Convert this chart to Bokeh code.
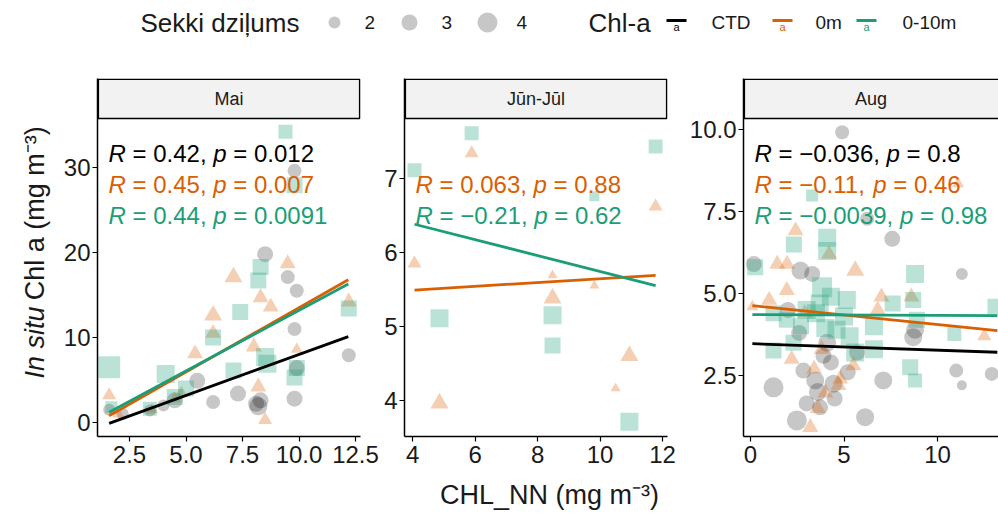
import math
from bokeh.plotting import figure
from bokeh.layouts import column, row
from bokeh.models import Range1d, FixedTicker
from bokeh.core.properties import value
from bokeh.embed import file_html
from bokeh.resources import INLINE

FONT = "Liberation Sans"
C_CTD = "#000000"
C_0M = "#D95F02"
C_010 = "#1B9E77"
TXT = "#1a1a1a"

# ---------------- data ----------------
PANELS = ["Mai", "Jūn-Jūl", "Aug"]
SERIES = ["CTD", "0m", "0-10m"]
SECCHI_LEGEND = [2, 3, 4]

# Mai
MAI_CTD_X = [1.6, 3.4, 4.5, 5.5, 6.2, 7.3, 8.1, 8.2, 8.3, 8.5, 9.5, 9.9, 9.8, 9.9, 9.8, 12.2, 9.8, 4.0, 2.2]
MAI_CTD_Y = [1.5, 1.4, 2.6, 4.9, 2.4, 3.4, 2.2, 1.9, 2.6, 19.8, 17.1, 15.5, 11.0, 6.4, 2.8, 7.9, 29.6, 2.0, 1.0]
MAI_CTD_S = [2, 2, 3, 3, 2.5, 3, 3, 3.5, 3, 3, 2.5, 2.5, 2.5, 3, 3, 2.5, 2.5, 2, 2]
MAI_0M_X = [1.6, 2.0, 3.5, 4.5, 5.4, 6.2, 7.1, 8.3, 8.75, 8.0, 8.2, 8.5, 9.5, 9.9, 12.2, 4.8, 6.2]
MAI_0M_Y = [3.2, 1.0, 1.5, 2.8, 8.1, 12.6, 17.1, 14.7, 13.6, 8.9, 4.2, 0.3, 18.7, 8.6, 14.2, 3.5, 10.5]
MAI_0M_S = [2.5, 2, 2, 2, 3, 3.5, 3.5, 3, 3, 3, 3, 2.5, 3, 2, 3, 2, 3]
MAI_010_X = [1.6, 1.7, 3.4, 4.1, 4.5, 6.2, 7.4, 7.1, 8.3, 8.2, 8.5, 8.6, 9.9, 9.8, 12.2, 9.4, 9.8, 5.0]
MAI_010_Y = [6.5, 1.8, 1.6, 5.7, 3.0, 10.0, 13.0, 6.1, 18.3, 16.7, 7.7, 6.9, 6.4, 5.3, 13.4, 34.2, 27.9, 4.0]
MAI_010_S = [4.5, 2, 2.5, 3.5, 3, 3, 3, 3, 3, 3, 3.5, 3.5, 3, 3, 3, 2.5, 3, 3]
MAI_FIT_X = [1.6, 12.18]
MAI_FIT_CTD = [-0.1, 10.1]
MAI_FIT_0M = [0.8, 16.8]
MAI_FIT_010 = [1.2, 16.3]
MAI_R = ["0.42", "0.45", "0.44"]
MAI_P = ["0.012", "0.007", "0.0091"]

# Jun-Jul
JUN_0M_X = [4.06, 4.86, 5.89, 8.48, 8.48, 9.82, 10.5, 10.94, 11.78]
JUN_0M_Y = [5.85, 3.96, 7.34, 5.38, 5.69, 5.55, 4.16, 4.6, 6.62]
JUN_0M_S = [2.5, 3.5, 2.5, 3.5, 1.5, 1.5, 1.5, 3.5, 2.5]
JUN_010_X = [4.06, 4.86, 5.89, 8.48, 8.48, 9.82, 10.94, 11.78]
JUN_010_Y = [7.11, 5.11, 7.61, 5.15, 4.74, 6.76, 3.71, 7.43]
JUN_010_S = [2.5, 3.5, 2.5, 3.5, 3, 1.5, 3.5, 2.5]
JUN_FIT_X = [4.06, 11.78]
JUN_FIT_0M = [5.49, 5.69]
JUN_FIT_010 = [6.38, 5.55]
JUN_R = ["0.063", "−0.21"]
JUN_P = ["0.88", "0.62"]

# Aug
AUG_CTD_X = [4.9, 6.24, 7.58, 0.18, 2.67, 11.3, 8.7, 1.23, 3.46, 4.44, 7.1, 11.0, 11.3, 12.9, 3.72, 2.48, 6.13, 2.83, 3.0, 3.9, 4.3, 5.2, 5.7, 8.8, 4.5, 2.0, 3.3, 3.6, 4.1, 2.6]
AUG_CTD_Y = [9.92, 7.28, 6.67, 5.9, 5.7, 5.6, 3.67, 2.14, 2.35, 2.25, 2.35, 2.65, 2.2, 2.55, 1.53, 1.13, 1.23, 2.65, 1.65, 3.1, 2.9, 2.6, 3.2, 3.9, 1.8, 4.5, 5.6, 2.0, 3.5, 3.8]
AUG_CTD_S = [2.5, 2.5, 3, 3, 3.5, 2, 3.5, 4, 3.5, 3.5, 3.5, 2.5, 1.5, 2.5, 3, 4, 3.5, 3, 3, 3, 3, 3, 3, 3.5, 3, 3, 3, 3.5, 3.5, 3]
AUG_0M_X = [2.41, 1.43, 1.96, 5.6, 1.94, 7.0, 3.2, 4.0, 3.6, 2.9, 4.7, 5.5, 0.1, 11.1, 3.8, 1.0, 6.8, 12.5, 8.6, 4.2, 2.2, 4.8, 3.4]
AUG_0M_Y = [6.92, 5.9, 5.9, 5.7, 5.1, 4.9, 0.92, 1.97, 1.5, 4.4, 2.2, 2.8, 4.6, 8.35, 3.3, 4.8, 4.5, 3.7, 4.9, 6.2, 3.0, 2.4, 2.7]
AUG_0M_S = [3, 3, 3, 3.5, 3, 3, 3, 3, 3, 3, 3, 3, 2, 2, 3, 3, 3, 2.5, 3, 3, 3, 3, 3]
AUG_010_X = [3.3, 2.32, 4.1, 4.1, 8.8, 3.83, 3.7, 5.15, 7.6, 8.7, 13.1, 1.23, 1.94, 4.0, 4.6, 6.6, 8.9, 10.9, 1.23, 5.6, 6.6, 8.54, 8.8, 0.25, 3.0, 5.0, 2.3, 3.5, 4.3, 5.3, 2.7]
AUG_010_Y = [7.99, 6.5, 6.7, 6.3, 5.6, 5.19, 4.7, 4.8, 4.7, 4.8, 4.6, 4.4, 4.2, 3.95, 3.9, 4.0, 4.2, 3.77, 3.26, 3.2, 3.3, 2.75, 2.35, 5.8, 4.5, 4.3, 3.5, 4.4, 4.9, 3.7, 4.0]
AUG_010_S = [2, 3, 3.5, 3.5, 3.5, 4, 3.5, 3.5, 3, 3, 3, 3, 3, 3.5, 3.5, 3.5, 3, 2.5, 3, 3.5, 3.5, 3, 2.5, 3, 3.5, 3.5, 3, 3.5, 3.5, 3.5, 3]
AUG_FIT_X = [0.1, 13.2]
AUG_FIT_CTD = [3.47, 3.21]
AUG_FIT_0M = [4.63, 3.87]
AUG_FIT_010 = [4.36, 4.33]
AUG_R = ["−0.036", "−0.11", "−0.0039"]
AUG_P = ["0.8", "0.46", "0.98"]

# ---------------- helpers ----------------
AW = {' ': 278, '.': 278, ',': 278, '=': 584, '−': 584, '-': 333, 'R': 722, 'p': 556,
      'I': 278, 'n': 556, 's': 500, 'i': 222, 't': 278, 'u': 556, 'C': 722, 'h': 556,
      'l': 222, 'a': 556, '(': 333, 'm': 833, 'g': 556, ')': 333, '⁻': 333, '³': 333}


def tw(s, fs):
    return sum(AW.get(c, 556) for c in s) * fs / 1000.0


def msize(depths):
    return [4.0 * d + 4.0 for d in depths]


PANEL_H = 318     # data panel height (px)
STRIP_H = 40      # facet strip height (px)
BOTTOM = 44       # room for x tick labels
FS_TICK = "24px"
FS_STAT = 24
FS_TITLE = 27
ALPHA = 0.3
COLORS = {"CTD": C_CTD, "0m": C_0M, "0-10m": C_010}
MARKERS = {"CTD": "circle", "0m": "triangle", "0-10m": "square"}


def style_axes(p, xticks, xlabels, yticks, ylabels):
    p.xgrid.visible = False
    p.ygrid.visible = False
    p.outline_line_color = None
    p.xaxis.ticker = FixedTicker(ticks=xticks)
    p.yaxis.ticker = FixedTicker(ticks=yticks)
    p.xaxis.major_label_overrides = {t: l for t, l in zip(xticks, xlabels)}
    p.yaxis.major_label_overrides = {t: l for t, l in zip(yticks, ylabels)}
    for ax in (p.xaxis, p.yaxis):
        ax.axis_line_color = "black"
        ax.axis_line_width = 1.5
        ax.major_tick_line_color = "black"
        ax.major_tick_line_width = 1.2
        ax.major_tick_out = 5
        ax.major_tick_in = 0
        ax.minor_tick_line_color = None
        ax.major_label_text_font = FONT
        ax.major_label_text_font_size = FS_TICK
        ax.major_label_text_color = TXT
    p.xaxis.major_label_standoff = 4
    p.yaxis.major_label_standoff = 2


def make_panel(label, left, fw, right, xr, yr, series, fit_x, fits, stats, ticks):
    x0, x1 = xr
    y0, y1 = yr
    upp = (y1 - y0) / PANEL_H          # data units per pixel (y)
    xpp = (x1 - x0) / fw               # data units per pixel (x)
    ytop = y1 + STRIP_H * upp          # frame also holds the facet strip
    p = figure(width=left + fw + right, height=STRIP_H + PANEL_H + BOTTOM,
               x_range=Range1d(x0, x1), y_range=Range1d(y0, ytop),
               output_backend="svg", toolbar_location=None,
               min_border_left=left, min_border_right=right, min_border_top=0, min_border_bottom=BOTTOM)
    style_axes(p, *ticks)
    for name, xs, ys, ss in series:
        p.scatter(x=xs, y=ys, size=msize(ss), marker=MARKERS[name], fill_color=COLORS[name],
                  fill_alpha=ALPHA if name != "CTD" else 0.22, line_color=None)
    for name, ys in fits:
        p.line(x=fit_x, y=ys, line_color=COLORS[name], line_width=2.8)
    # facet strip
    p.quad(left=[x0 + 0.8 * xpp], right=[x1 - (0.8 if right > 0 else -2) * xpp], bottom=[y1], top=[ytop - 0.8 * upp],
           fill_color="#F2F2F2", line_color="black", line_width=1.6)
    p.text(x=[(x0 + x1) / 2], y=[y1 + STRIP_H / 2 * upp], text=[label], text_font=value(FONT),
           text_font_size="18px", text_color=TXT, text_align="center", text_baseline="middle")
    # correlation labels
    for slot, color, rtxt, ptxt in stats:
        xa = x0 + 11.0 * xpp
        ya = y1 - [35, 66, 97][slot] * upp
        pieces = [("R", "italic"), (" = " + rtxt + ", ", "normal"), ("p", "italic"), (" = " + ptxt, "normal")]
        xo = 0.0
        for s, st in pieces:
            lead = len(s) - len(s.lstrip())
            p.text(x=[xa], y=[ya], text=[s.strip()], x_offset=xo + tw(s[:lead], FS_STAT),
                   text_font=value(FONT), text_font_size=f"{FS_STAT}px", text_font_style=st,
                   text_color=color, text_baseline="middle", text_align="left")
            xo += tw(s, FS_STAT)
    return p


# ---------------- panels ----------------
MAI_XR = (1.084, 12.72)
MAI_YR = (-1.65, 35.76)
JUN_XR = (3.74, 12.16)
JUN_YR = (3.51, 7.81)
AUG_XR = (-0.374, 13.26)
AUG_YR = (0.64, 10.34)

L1, W1, R1 = 37, 263, 20
L2, W2, R2 = 24, 263, 13
L3, W3, R3 = 63, 255, 0

p1 = make_panel(PANELS[0], L1, W1, R1, MAI_XR, MAI_YR,
                [("CTD", MAI_CTD_X, MAI_CTD_Y, MAI_CTD_S), ("0m", MAI_0M_X, MAI_0M_Y, MAI_0M_S),
                 ("0-10m", MAI_010_X, MAI_010_Y, MAI_010_S)],
                MAI_FIT_X, [("CTD", MAI_FIT_CTD), ("0m", MAI_FIT_0M), ("0-10m", MAI_FIT_010)],
                [(0, C_CTD, MAI_R[0], MAI_P[0]), (1, C_0M, MAI_R[1], MAI_P[1]), (2, C_010, MAI_R[2], MAI_P[2])],
                ([2.5, 5, 7.5, 10, 12.5], ["2.5", "5.0", "7.5", "10.0", "12.5"], [0, 10, 20, 30], ["0", "10", "20", "30"]))

p2 = make_panel(PANELS[1], L2, W2, R2, JUN_XR, JUN_YR,
                [("0m", JUN_0M_X, JUN_0M_Y, JUN_0M_S), ("0-10m", JUN_010_X, JUN_010_Y, JUN_010_S)],
                JUN_FIT_X, [("0m", JUN_FIT_0M), ("0-10m", JUN_FIT_010)],
                [(1, C_0M, JUN_R[0], JUN_P[0]), (2, C_010, JUN_R[1], JUN_P[1])],
                ([4, 6, 8, 10, 12], ["4", "6", "8", "10", "12"], [4, 5, 6, 7], ["4", "5", "6", "7"]))

p3 = make_panel(PANELS[2], L3, W3, R3, AUG_XR, AUG_YR,
                [("CTD", AUG_CTD_X, AUG_CTD_Y, AUG_CTD_S), ("0m", AUG_0M_X, AUG_0M_Y, AUG_0M_S),
                 ("0-10m", AUG_010_X, AUG_010_Y, AUG_010_S)],
                AUG_FIT_X, [("CTD", AUG_FIT_CTD), ("0m", AUG_FIT_0M), ("0-10m", AUG_FIT_010)],
                [(0, C_CTD, AUG_R[0], AUG_P[0]), (1, C_0M, AUG_R[1], AUG_P[1]), (2, C_010, AUG_R[2], AUG_P[2])],
                ([0, 5, 10], ["0", "5", "10"], [2.5, 5, 7.5, 10], ["2.5", "5.0", "7.5", "10.0"]))


def blank(width, height):
    f = figure(width=width, height=height, x_range=Range1d(0, width), y_range=Range1d(0, height),
               output_backend="svg", toolbar_location=None, x_axis_location=None, y_axis_location=None,
               min_border=0)
    f.xgrid.visible = False
    f.ygrid.visible = False
    f.outline_line_color = None
    return f


# ---------------- y-axis title ----------------
TOP_H = 78
YL_W = 60
ROW_H = STRIP_H + PANEL_H + BOTTOM
yl = blank(YL_W, ROW_H)
y_start = ROW_H - (415 - TOP_H)
y_gap = tw("In situ", FS_TITLE) + 16
yl.text(x=[34], y=[y_start], text=["In situ"], angle=math.pi / 2,
        text_font=value(FONT), text_font_size=f"{FS_TITLE}px", text_font_style="italic",
        text_color=TXT, text_align="left", text_baseline="middle")
yl.text(x=[34], y=[y_start + y_gap], text=["Chl a (mg m⁻³)"], angle=math.pi / 2,
        text_font=value(FONT), text_font_size=f"{FS_TITLE}px", text_font_style="normal",
        text_color=TXT, text_align="left", text_baseline="middle")

# ---------------- x-axis title ----------------
XT_H = 515 - TOP_H - ROW_H
xt = blank(998, XT_H)
xt.text(x=[549], y=[XT_H - (494 - (TOP_H + ROW_H))], text=["CHL_NN (mg m⁻³)"], text_font=value(FONT),
        text_font_size=f"{FS_TITLE}px", text_color=TXT, text_align="center", text_baseline="middle")

# ---------------- legend ----------------
lg = blank(998, TOP_H)
LY = TOP_H - 22
lg.text(x=[140], y=[LY], text=["Sekki dziļums"], text_font=value(FONT), text_font_size="26px",
        text_color=TXT, text_baseline="middle")
lg.scatter(x=[334, 409, 487], y=[LY] * 3, size=msize(SECCHI_LEGEND), marker="circle",
           fill_color="black", fill_alpha=0.22, line_color=None)
lg.text(x=[364, 441, 516], y=[LY] * 3, text=[str(v) for v in SECCHI_LEGEND], text_font=value(FONT),
        text_font_size="19px", text_color=TXT, text_baseline="middle")
lg.text(x=[588], y=[LY], text=["Chl-a"], text_font=value(FONT), text_font_size="26px",
        text_color=TXT, text_baseline="middle")
KX = [676, 782, 866]
for kx, name in zip(KX, SERIES):
    lg.line(x=[kx - 10, kx + 10], y=[LY + 2, LY + 2], line_color=COLORS[name], line_width=2.8)
    lg.text(x=[kx], y=[LY - 4], text=["a"], text_font=value(FONT), text_font_size="11px",
            text_color=COLORS[name], text_align="center", text_baseline="middle")
lg.text(x=[711, 815, 902], y=[LY] * 3, text=SERIES, text_font=value(FONT), text_font_size="19px",
        text_color=TXT, text_baseline="middle")

layout = column(lg, row(yl, p1, p2, p3), xt)

open("out.html", "w").write(file_html(layout, INLINE))
